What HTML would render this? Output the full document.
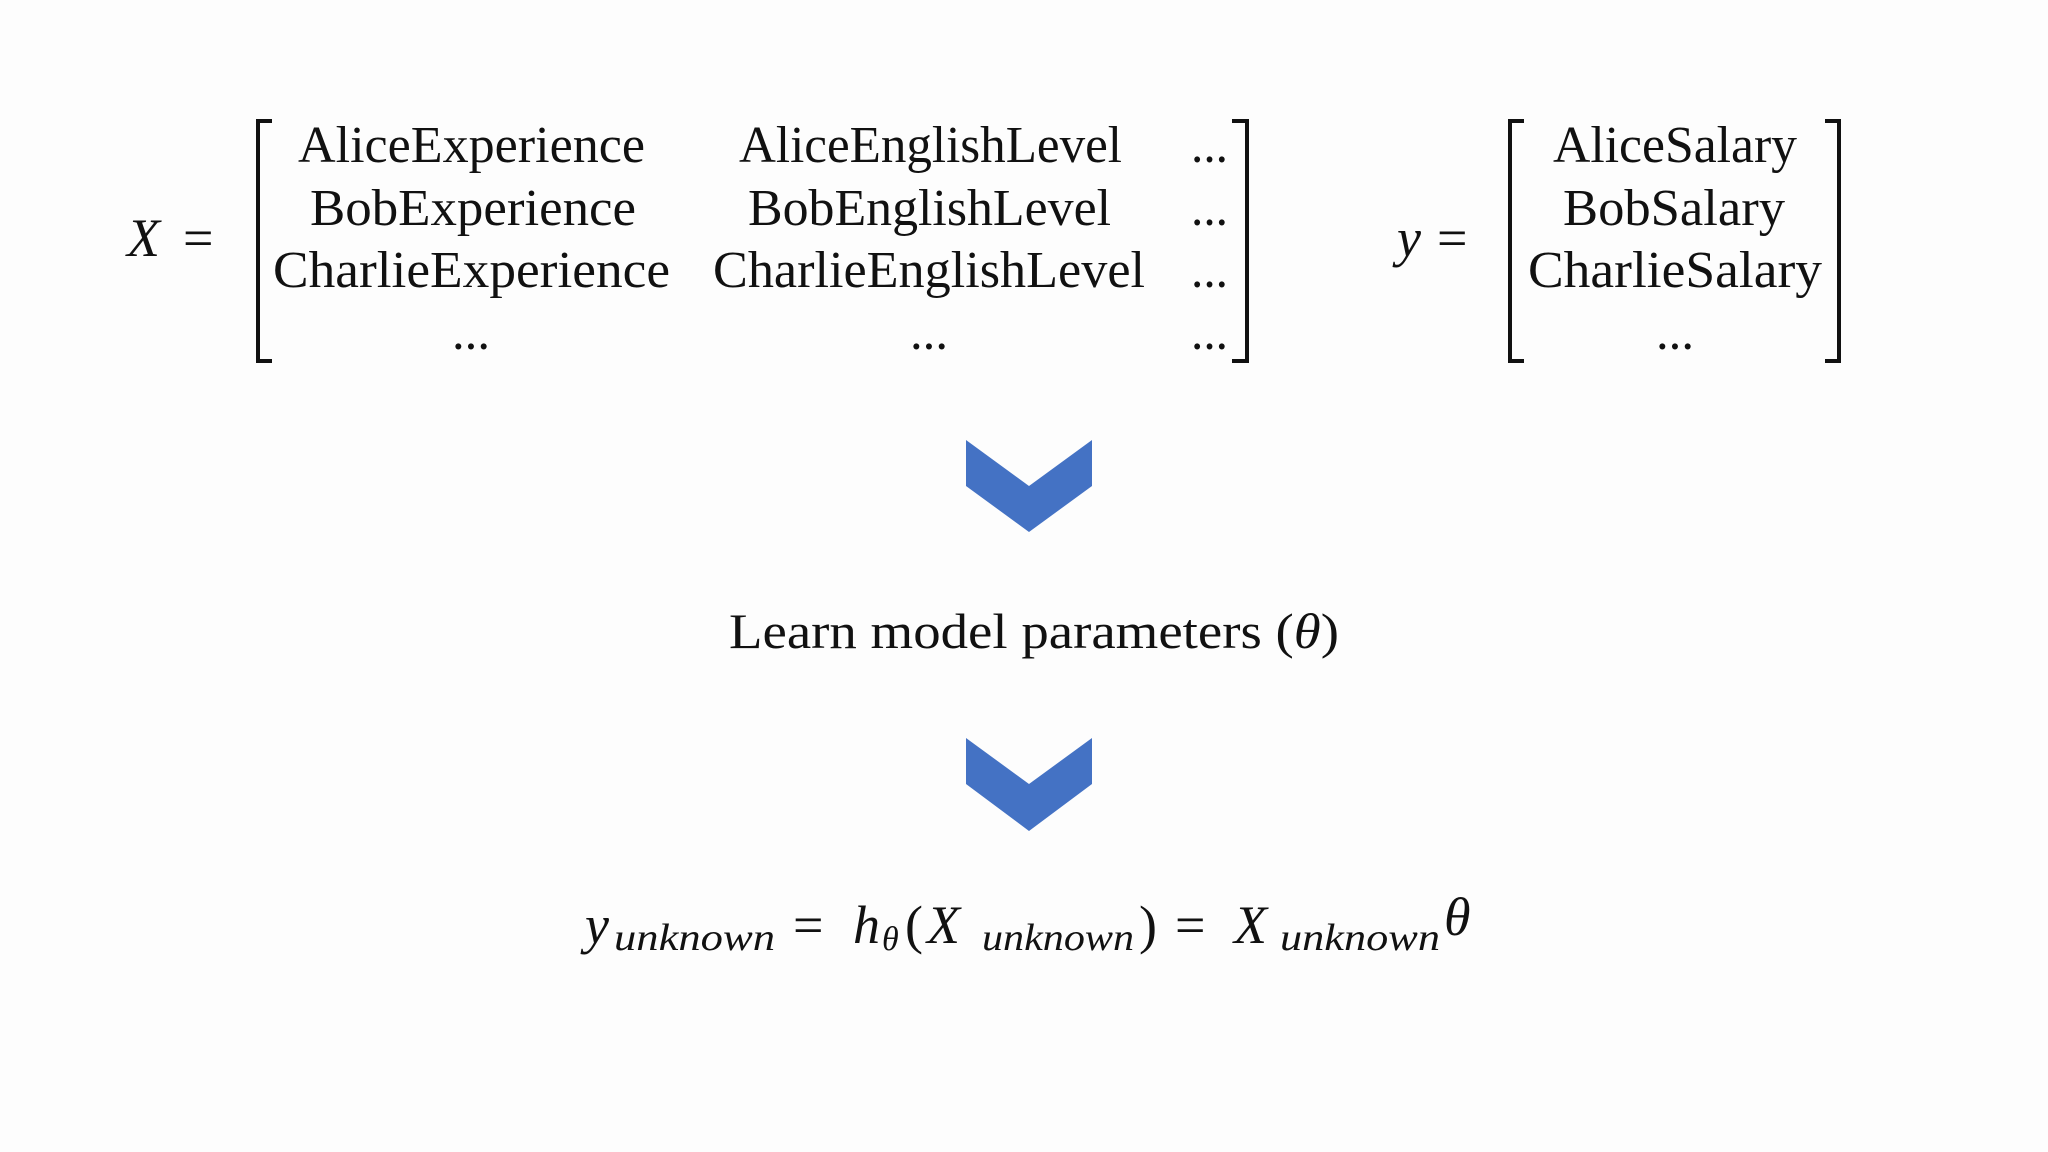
<!DOCTYPE html>
<html><head><meta charset="utf-8"><style>
html,body{margin:0;padding:0;background:#fff;}
svg{display:block;}
text{font-family:"Liberation Serif",serif;fill:#111;}
</style></head><body>
<svg width="2048" height="1152" viewBox="0 0 2048 1152" xmlns="http://www.w3.org/2000/svg">
<rect width="2048" height="1152" fill="#fdfdfd"/>
<g font-size="52">
<text x="127" y="256" font-style="italic" font-size="54">X</text>
<text x="183" y="256" font-size="54">=</text>
<text x="1397" y="256" font-style="italic" font-size="54">y</text>
<text x="1437" y="256" font-size="54">=</text>
<!-- brackets -->
<g fill="none" stroke="#111" stroke-width="4">
<polyline points="272,121 258,121 258,361 272,361"/>
<polyline points="1232,121 1247,121 1247,361 1232,361"/>
<polyline points="1524,121 1510,121 1510,361 1524,361"/>
<polyline points="1825,121 1839,121 1839,361 1825,361"/>
</g>
<text x="298" y="162" textLength="347" lengthAdjust="spacingAndGlyphs">AliceExperience</text>
<text x="310" y="225" textLength="326" lengthAdjust="spacingAndGlyphs">BobExperience</text>
<text x="273" y="287" textLength="397" lengthAdjust="spacingAndGlyphs">CharlieExperience</text>
<text x="739" y="162" textLength="383" lengthAdjust="spacingAndGlyphs">AliceEnglishLevel</text>
<text x="748" y="225" textLength="363" lengthAdjust="spacingAndGlyphs">BobEnglishLevel</text>
<text x="713" y="287" textLength="432" lengthAdjust="spacingAndGlyphs">CharlieEnglishLevel</text>
<text x="1191" y="162" textLength="37" lengthAdjust="spacingAndGlyphs">...</text>
<text x="1191" y="225" textLength="37" lengthAdjust="spacingAndGlyphs">...</text>
<text x="1191" y="287" textLength="37" lengthAdjust="spacingAndGlyphs">...</text>
<text x="1191" y="349" textLength="37" lengthAdjust="spacingAndGlyphs">...</text>
<text x="452" y="349" textLength="38" lengthAdjust="spacingAndGlyphs">...</text>
<text x="910" y="349" textLength="38" lengthAdjust="spacingAndGlyphs">...</text>
<text x="1553" y="162" textLength="244" lengthAdjust="spacingAndGlyphs">AliceSalary</text>
<text x="1563" y="225" textLength="222" lengthAdjust="spacingAndGlyphs">BobSalary</text>
<text x="1528" y="287" textLength="294" lengthAdjust="spacingAndGlyphs">CharlieSalary</text>
<text x="1656" y="349" textLength="38" lengthAdjust="spacingAndGlyphs">...</text>
</g>
<polygon points="966,440 1029,486 1092,440 1092,486 1029,532 966,486" fill="#4472C4"/>
<polygon points="966,738 1029,784 1092,738 1092,784 1029,831 966,784" fill="#4472C4"/>
<text x="729" y="648" font-size="50" textLength="610" lengthAdjust="spacingAndGlyphs">Learn model parameters (<tspan font-style="italic">θ</tspan>)</text>
<g font-size="54">
<text x="585" y="943" font-style="italic">y</text>
<text x="614" y="950" font-style="italic" font-size="38" textLength="161" lengthAdjust="spacingAndGlyphs">unknown</text>
<text x="793" y="943">=</text>
<text x="853" y="943" font-style="italic">h</text>
<text x="882" y="950" font-style="italic" font-size="34">θ</text>
<text x="905" y="943">(</text>
<text x="927" y="943" font-style="italic">X</text>
<text x="982" y="950" font-style="italic" font-size="38" textLength="152" lengthAdjust="spacingAndGlyphs">unknown</text>
<text x="1139" y="943">)</text>
<text x="1175" y="943">=</text>
<text x="1234" y="943" font-style="italic">X</text>
<text x="1280" y="950" font-style="italic" font-size="38" textLength="160" lengthAdjust="spacingAndGlyphs">unknown</text>
<text x="1444" y="935" font-style="italic">θ</text>
</g>
</svg>
</body></html>
